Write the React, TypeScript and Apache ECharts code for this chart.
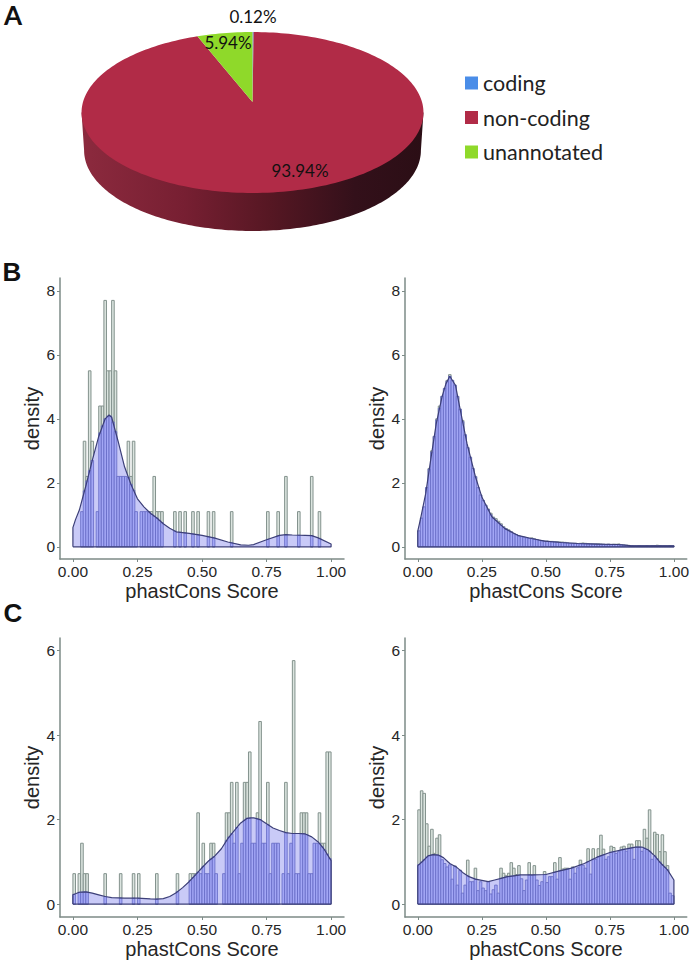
import React, { useEffect, useRef } from "react";
import * as echarts from "echarts";

const pieCategories = ["coding", "non-coding", "unannotated"];
const pieValues = [0.12, 93.94, 5.94];
const pieColors = ["#4a8de8", "#b12b47", "#8fd92a"];
const xTicks = [0, 0.25, 0.5, 0.75, 1];
const yTicksB = [0, 2, 4, 6, 8];
const yTicksC = [0, 2, 4, 6];

const barsBLeft = [
  0, 0, 0, 1.1, 3.3, 2.2, 5.5, 3.3, 0, 1.1,
  4.4, 4.4, 7.7, 5.5, 5.5, 7.7, 5.5, 2.2, 2.2, 2.2,
  2.2, 3.3, 2.2, 3.3, 1.1, 0, 1.1, 1.1, 1.1, 1.1,
  1.1, 2.2, 1.1, 1.1, 1.1, 0, 0, 0, 0, 1.1,
  0, 1.1, 0, 1.1, 0, 0, 1.1, 0, 1.1, 0,
  0, 0, 1.1, 0, 1.1, 0, 0, 0, 0, 0,
  0, 1.1, 0, 0, 0, 0, 0, 0, 0, 0,
  0, 0, 0, 0, 0, 1.1, 0, 0, 0, 1.1,
  0, 0, 2.2, 0, 0, 0, 0, 1.1, 0, 0,
  0, 0, 2.2, 0, 0, 1.1, 0, 0, 0, 0,
];
const barsBRight = [
  0.5, 0.9, 1.25, 1.85, 2.45, 3.0, 3.45, 4.0, 4.4, 4.7,
  4.95, 5.2, 5.38, 5.2, 5.05, 4.7, 4.3, 3.95, 3.5, 3.1,
  2.8, 2.45, 2.2, 1.85, 1.62, 1.45, 1.3, 1.18, 1.05, 0.93,
  0.88, 0.8, 0.72, 0.63, 0.57, 0.53, 0.47, 0.41, 0.38, 0.34,
  0.32, 0.3, 0.28, 0.26, 0.28, 0.25, 0.23, 0.2, 0.19, 0.18,
  0.18, 0.17, 0.17, 0.16, 0.16, 0.15, 0.15, 0.14, 0.12, 0.11,
  0.11, 0.11, 0.1, 0.11, 0.12, 0.11, 0.1, 0.09, 0.09, 0.09,
  0.1, 0.09, 0.08, 0.07, 0.08, 0.07, 0.08, 0.08, 0.09, 0.07,
  0.06, 0.05, 0.04, 0.04, 0.03, 0.03, 0.04, 0.03, 0.03, 0.04,
  0.03, 0.04, 0.04, 0.05, 0.04, 0.03, 0.03, 0.03, 0.04, 0.03,
];
const barsCLeft = [
  0.72, 0, 0.72, 1.44, 0.72, 0.72, 0, 0, 0, 0,
  0, 0, 0.72, 0, 0, 0, 0, 0, 0.72, 0,
  0, 0, 0, 0.72, 0, 0.72, 0, 0, 0, 0,
  0, 0, 0.72, 0, 0, 0, 0, 0, 0, 0,
  0.72, 0, 0, 0, 0, 0.72, 0.72, 0.72, 2.16, 0.72,
  1.44, 0.72, 0.72, 1.44, 1.44, 0.72, 0, 0, 0.72, 2.16,
  2.16, 2.88, 1.44, 2.88, 0.72, 1.44, 2.88, 2.88, 3.6, 1.44,
  1.44, 2.16, 4.32, 1.44, 1.44, 2.88, 0.72, 1.44, 1.44, 1.44,
  0, 0.72, 2.88, 0.72, 1.44, 5.76, 0.72, 0.72, 2.16, 2.16,
  2.16, 0.72, 0.72, 1.44, 1.44, 2.16, 1.44, 1.44, 3.6, 3.6,
];
const barsCRight = [
  2.23, 2.68, 2.62, 1.9, 1.37, 1.77, 1.2, 1.56, 1.64, 1.05,
  0.96, 0.88, 0.93, 0.59, 0.9, 0.45, 0.8, 0.26, 0.45, 1.04,
  0.53, 0.53, 0.85, 0.32, 0.53, 0.38, 0.32, 0.53, 0.24, 0.34,
  0.45, 0.26, 0.85, 0.73, 0.67, 0.73, 0.98, 0.85, 0.7, 0.91,
  0.6, 0.32, 0.57, 0.98, 0.68, 0.91, 0.57, 0.44, 0.53, 0.77,
  0.51, 0.65, 0.65, 0.98, 0.59, 1.1, 0.83, 0.85, 0.85, 0.59,
  0.88, 0.73, 0.86, 1.04, 0.92, 0.85, 1.31, 0.71, 1.31, 1.06,
  1.31, 1.63, 1.3, 1.06, 1.12, 1.37, 1.34, 1.2, 1.24, 1.35,
  1.37, 1.25, 1.42, 1.42, 1.06, 1.5, 1.5, 1.25, 1.77, 1.56,
  2.23, 1.06, 1.7, 1.65, 1.24, 1.64, 1.24, 0.91, 0.26, 0.2,
];

const densBLeftX = [0, 0.01, 0.025, 0.05, 0.075, 0.1, 0.125, 0.14, 0.15, 0.175, 0.2, 0.225, 0.25, 0.275, 0.3, 0.325, 0.35, 0.375, 0.4, 0.45, 0.5, 0.55, 0.6, 0.65, 0.68, 0.7, 0.75, 0.8, 0.825, 0.85, 0.9, 0.925, 0.95, 1];
const densBLeftY = [0.6, 0.85, 1.15, 1.9, 2.7, 3.45, 4.0, 4.12, 4.05, 3.3, 2.5, 1.95, 1.5, 1.25, 1.05, 0.9, 0.72, 0.58, 0.47, 0.42, 0.36, 0.27, 0.15, 0.06, 0.05, 0.07, 0.22, 0.36, 0.38, 0.37, 0.36, 0.35, 0.28, 0.09];
const densBRightX = [0, 0.01, 0.031, 0.05, 0.072, 0.095, 0.11, 0.125, 0.147, 0.166, 0.192, 0.225, 0.25, 0.289, 0.34, 0.39, 0.444, 0.495, 0.56, 0.625, 0.7, 0.78, 0.83, 0.935, 1];
const densBRightY = [0.5, 0.85, 1.67, 2.7, 3.85, 4.7, 5.1, 5.33, 5.05, 4.27, 3.23, 2.19, 1.56, 0.94, 0.57, 0.36, 0.26, 0.18, 0.135, 0.105, 0.083, 0.073, 0.035, 0.03, 0.03];
const densCLeftX = [0, 0.025, 0.05, 0.075, 0.1, 0.125, 0.15, 0.2, 0.25, 0.3, 0.325, 0.35, 0.375, 0.4, 0.425, 0.45, 0.475, 0.5, 0.525, 0.55, 0.575, 0.6, 0.625, 0.65, 0.675, 0.69, 0.7, 0.725, 0.75, 0.775, 0.8, 0.825, 0.85, 0.875, 0.9, 0.925, 0.95, 0.975, 1];
const densCLeftY = [0.22, 0.28, 0.29, 0.26, 0.22, 0.18, 0.155, 0.14, 0.14, 0.125, 0.12, 0.13, 0.18, 0.27, 0.39, 0.53, 0.69, 0.86, 1.02, 1.14, 1.31, 1.55, 1.74, 1.92, 2.03, 2.04, 2.04, 2.0, 1.9, 1.8, 1.74, 1.69, 1.67, 1.67, 1.66, 1.59, 1.47, 1.28, 1.03];
const densCRightX = [0, 0.02, 0.04, 0.06, 0.08, 0.1, 0.125, 0.15, 0.175, 0.2, 0.225, 0.25, 0.275, 0.3, 0.325, 0.35, 0.375, 0.4, 0.45, 0.5, 0.55, 0.6, 0.65, 0.7, 0.75, 0.8, 0.85, 0.875, 0.9, 0.925, 0.95, 0.975, 1];
const densCRightY = [0.91, 1.02, 1.14, 1.17, 1.16, 1.1, 0.96, 0.88, 0.75, 0.65, 0.59, 0.56, 0.53, 0.57, 0.61, 0.65, 0.67, 0.69, 0.69, 0.7, 0.78, 0.85, 0.96, 1.11, 1.22, 1.29, 1.35, 1.35, 1.28, 1.14, 0.96, 0.81, 0.57];

const panels = [
  { bars: barsBLeft, xs: densBLeftX, ys: densBLeftY, left: 60, top: 278, yMin: -0.38, yMax: 8.4, ticks: yTicksB },
  { bars: barsBRight, xs: densBRightX, ys: densBRightY, left: 405, top: 278, yMin: -0.38, yMax: 8.4, ticks: yTicksB },
  { bars: barsCLeft, xs: densCLeftX, ys: densCLeftY, left: 60, top: 638, yMin: -0.305, yMax: 6.295, ticks: yTicksC },
  { bars: barsCRight, xs: densCRightX, ys: densCRightY, left: 405, top: 638, yMin: -0.305, yMax: 6.295, ticks: yTicksC },
];

const AXIS = "#7d8b87";
const TXT = "#262626";
const SANS = "Liberation Sans";

function densityAt(xs: number[], ys: number[], x: number) {
  for (let i = 1; i < xs.length; i++) {
    if (x <= xs[i]) {
      const t = (x - xs[i - 1]) / (xs[i] - xs[i - 1]);
      return ys[i - 1] + t * (ys[i] - ys[i - 1]);
    }
  }
  return ys[ys.length - 1];
}

// Perspective projection of the pie's disc
const PC = { x: 252.5, y: 102, a: 169.5, b: 79.1, k: 0.1304 };
function project(theta: number, drop = 0, scale = 1) {
  const X = Math.sin(theta);
  const Z = -Math.cos(theta);
  const d = 1 - PC.k * Z;
  return [PC.x + (scale * PC.a * X) / d, PC.y + (PC.b * Z) / d + drop];
}
function slicePoints(fromFrac: number, toFrac: number) {
  const pts: number[][] = [[PC.x, PC.y]];
  const n = Math.max(2, Math.ceil((toFrac - fromFrac) * 240));
  for (let i = 0; i <= n; i++) {
    pts.push(project(2 * Math.PI * (fromFrac + ((toFrac - fromFrac) * i) / n)));
  }
  return pts;
}
function wallPoints() {
  const widest = Math.acos(-PC.k);
  const pts: number[][] = [project(widest)];
  for (let i = 0; i <= 160; i++) {
    const th = widest + ((2 * Math.PI - 2 * widest) * i) / 160;
    pts.push(project(th, 38, 0.985));
  }
  pts.push(project(2 * Math.PI - widest));
  return pts;
}

function pieSeries() {
  const total = pieValues.reduce((a, b) => a + b, 0);
  let acc = 0;
  const slices = pieCategories.map((name, i) => {
    const from = acc / total;
    acc += pieValues[i];
    const to = acc / total;
    return {
      type: "custom",
      name,
      coordinateSystem: "none",
      z: 5,
      silent: true,
      itemStyle: { color: pieColors[i] },
      data: [pieValues[i]],
      renderItem: () => ({
        type: "polygon",
        shape: { points: slicePoints(from, to) },
        style: { fill: pieColors[i] },
      }),
    };
  });
  const wall = {
    type: "custom",
    name: "wall",
    coordinateSystem: "none",
    z: 4,
    silent: true,
    data: [1],
    renderItem: () => ({
      type: "polygon",
      shape: { points: wallPoints() },
      style: {
        fill: {
          type: "linear", x: 0, y: 0, x2: 1, y2: 0,
          colorStops: [
            { offset: 0, color: "#8c2a3e" },
            { offset: 0.3, color: "#771f32" },
            { offset: 0.55, color: "#561723" },
            { offset: 0.8, color: "#33101a" },
            { offset: 1, color: "#2b0e15" },
          ],
        },
      },
    }),
  };
  return [wall, ...slices];
}

function panelSeries(p: (typeof panels)[number], idx: number) {
  const binData = p.bars.map((h, i) => [i / 100, (i + 1) / 100, h]);
  const rect = (api: any, top: number, style: any) => {
    const a = api.coord([api.value(0), 0]);
    const b = api.coord([api.value(1), top]);
    return { type: "rect", shape: { x: a[0], y: b[1], width: b[0] - a[0], height: a[1] - b[1] }, style };
  };
  const area = p.xs.map((x, i) => [x, p.ys[i]]);
  const base = { xAxisIndex: idx, yAxisIndex: idx, silent: true };
  return [
    {
      ...base, type: "custom", name: "bars" + idx, z: 2, data: binData, encode: { x: [0, 1], y: 2 },
      renderItem: (params: any, api: any) => {
        const h = api.value(2);
        if (!h) return null;
        return rect(api, h, { fill: "#dbe4df", stroke: "#83928d", lineWidth: 1 });
      },
    },
    {
      ...base, type: "line", name: "area" + idx, z: 3, showSymbol: false, symbol: "none",
      data: [[0, 0], ...area, [1, 0]],
      lineStyle: { width: 0 },
      areaStyle: { color: "#c9caf7", opacity: 1, origin: 0 },
    },
    {
      ...base, type: "custom", name: "under" + idx, z: 4, data: binData, encode: { x: [0, 1], y: 2 },
      renderItem: (params: any, api: any) => {
        const h = api.value(2);
        if (!h) return null;
        const mid = (api.value(0) + api.value(1)) / 2;
        const top = Math.min(h, densityAt(p.xs, p.ys, mid));
        return rect(api, top, { fill: "#a3a7f6", stroke: "#6569c4", lineWidth: 0.8 });
      },
    },
    {
      ...base, type: "line", name: "outline" + idx, z: 5, showSymbol: false, symbol: "none",
      data: [[0, 0], ...area, [1, 0], [0, 0]],
      lineStyle: { color: "#3c3f78", width: 1.2 },
    },
  ];
}

export default function App() {
  const ref = useRef<HTMLDivElement>(null);
  useEffect(() => {
    document.body.style.margin = "0";
    const chart = echarts.init(ref.current!, undefined, { renderer: "svg" });
    const axisLine = { show: true, onZero: false, lineStyle: { color: AXIS, width: 1.5 } };
    const label = (s: string, x: number, y: number, size: number, font: string, weight = "normal", align = "center") => ({
      type: "text", x, y, z: 20,
      style: { text: s, fontSize: size, fontFamily: font, fontWeight: weight, fill: "#111", textAlign: align, textVerticalAlign: "middle" },
    });
    chart.setOption({
      animation: false,
      backgroundColor: "#ffffff",
      legend: {
        data: pieCategories,
        orient: "vertical",
        left: 465,
        top: 71,
        padding: 0,
        icon: "rect",
        itemWidth: 13,
        itemHeight: 13,
        itemGap: 10.5,
        selectedMode: false,
        textStyle: { fontFamily: "Lato", fontSize: 21.5, color: "#222", lineHeight: 24 },
      },
      grid: panels.map((p) => ({ left: p.left, top: p.top, width: 284, height: 281 })),
      xAxis: panels.map((_, i) => ({
        type: "value",
        gridIndex: i,
        min: -0.05,
        max: 1.05,
        splitLine: { show: false },
        axisLine,
        axisTick: { show: true, length: 3, customValues: xTicks, lineStyle: { color: AXIS } },
        axisLabel: {
          customValues: xTicks, formatter: (v: number) => v.toFixed(2),
          fontFamily: SANS, fontSize: 15.5, color: TXT, margin: 4,
        },
        name: "phastCons Score",
        nameLocation: "middle",
        nameGap: 22,
        nameTextStyle: { fontFamily: SANS, fontSize: 20, color: TXT },
      })),
      yAxis: panels.map((p, i) => ({
        type: "value",
        gridIndex: i,
        min: p.yMin,
        max: p.yMax,
        splitLine: { show: false },
        axisLine,
        axisTick: { show: true, length: 3, customValues: p.ticks, lineStyle: { color: AXIS } },
        axisLabel: { customValues: p.ticks, fontFamily: SANS, fontSize: 15.5, color: TXT, margin: 5 },
        name: "density",
        nameLocation: "middle",
        nameGap: 18,
        nameTextStyle: { fontFamily: SANS, fontSize: 20, color: TXT },
      })),
      graphic: [
        label("A", 13, 15, 26, "Lato", "bold"),
        label("B", 12, 272, 26, SANS, "bold"),
        label("C", 13, 613, 26, SANS, "bold"),
        label(pieValues[0].toFixed(2) + "%", 253, 16, 17, "Lato"),
        label(pieValues[2].toFixed(2) + "%", 228, 42, 17, "Lato"),
        label(pieValues[1].toFixed(2) + "%", 300, 170, 17, "Lato"),
      ],
      series: [...pieSeries(), ...panels.flatMap((p, i) => panelSeries(p, i))],
    });
    return () => chart.dispose();
  }, []);
  return <div ref={ref} style={{ position: "absolute", left: 0, top: 0, width: 692, height: 960 }} />;
}
